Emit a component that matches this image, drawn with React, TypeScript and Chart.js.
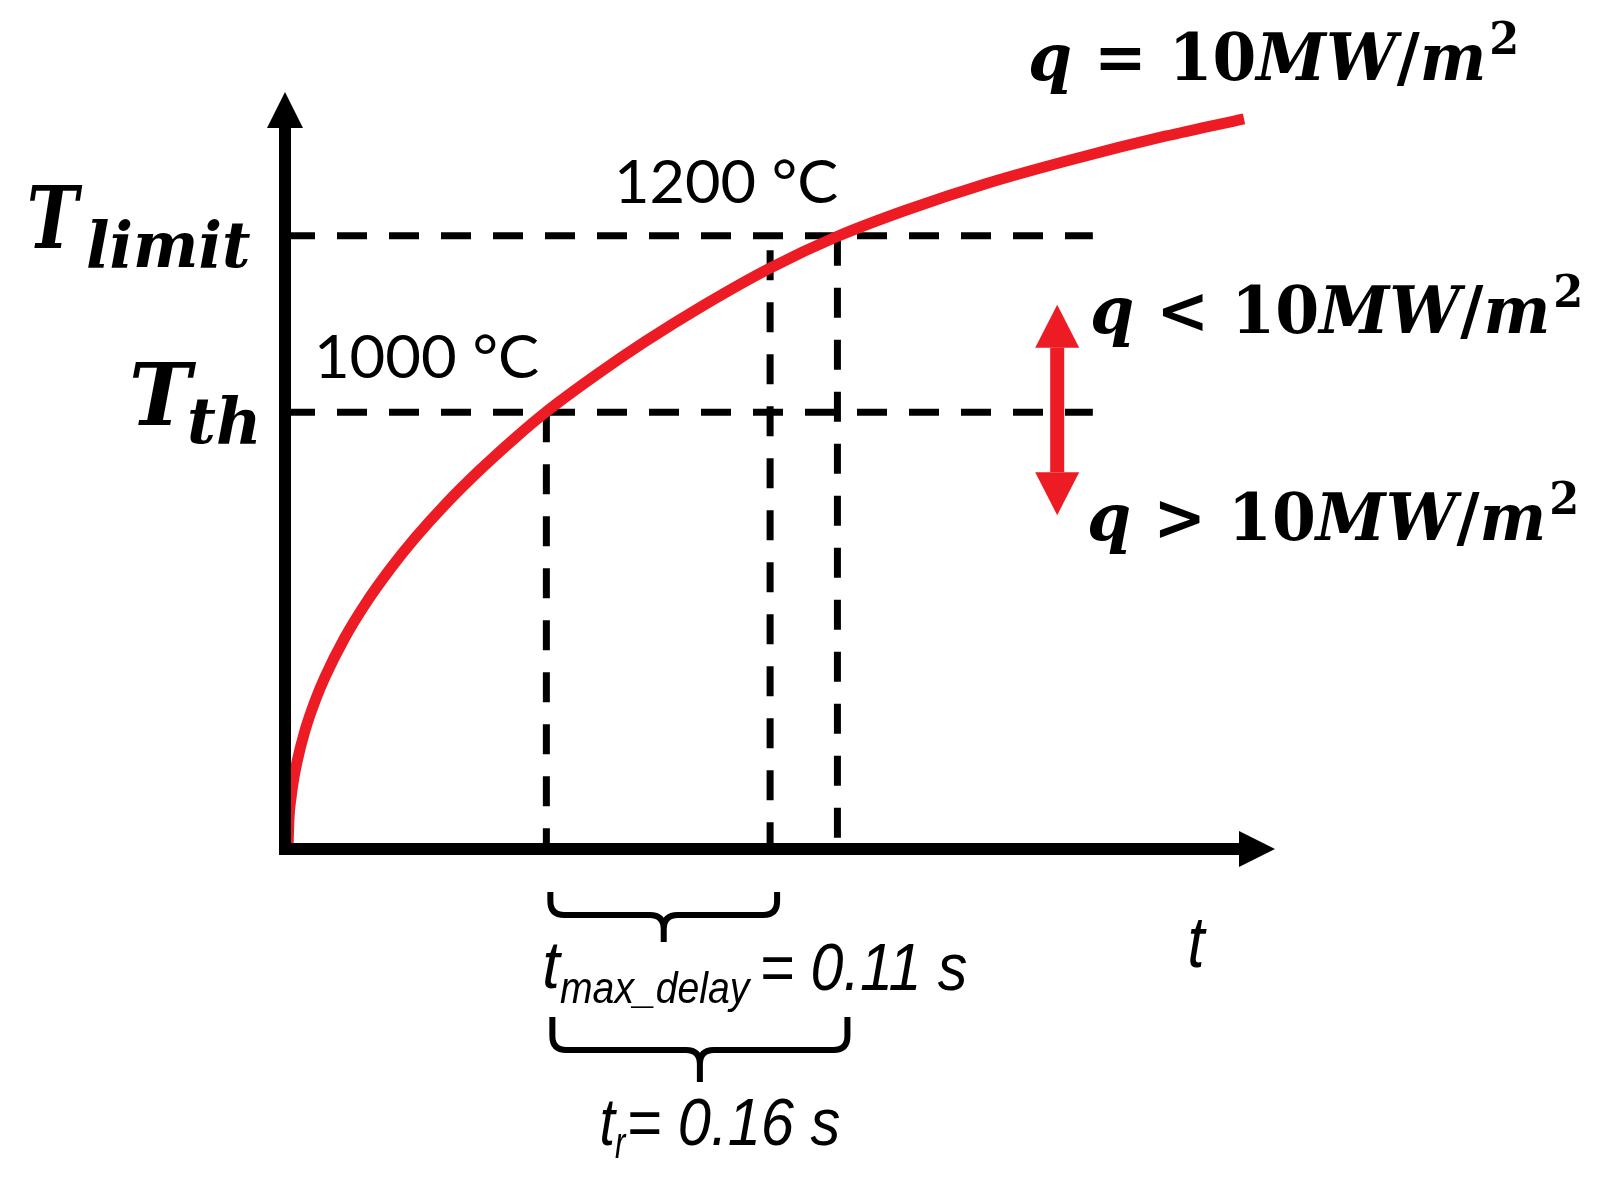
import React, { useEffect, useRef } from "react";
import { Chart, registerables } from "chart.js";

Chart.register(...registerables);

const W = 1609;
const H = 1180;
const RED = "#ED1C24";
const BLACK = "#000000";

// ---- data (arbitrary schematic units: time 0..100, temperature 0..100) ----
const curveTime = [0.3, 0.4, 0.61, 0.81, 1.21, 2.02, 3.03, 4.04, 6.06, 8.08, 10.61, 13.13, 16.16, 19.7, 23.23, 26.36, 31.31, 36.36, 42.42, 48.99, 55.76, 62.63, 70.71, 79.8, 88.89, 96.87];
const curveTemp = [0, 3.96, 6.8, 8.71, 11.49, 15.65, 19.54, 22.72, 27.97, 32.31, 36.97, 41.08, 45.48, 50.09, 54.29, 57.73, 62.52, 67.02, 71.93, 76.74, 80.91, 84.35, 87.86, 91.19, 94.16, 96.46];

const levelValues = [57.7, 81.0]; // T_th, T_limit
const levelLabels = ["1000 °C", "1200 °C"];
const guideEnd = 81.6;

const markerTimes = [26.4, 49.0, 55.8]; // t at T_th, t after max delay, t at T_limit
const markerTops = [57.7, 79.1, 81.0];

const fluxLabels = ["q = 10MW/m", "q < 10MW/m", "q > 10MW/m"];
const delayLabel = ["t", "max_delay", "= 0.11 s"];
const responseLabel = ["t", "r", "= 0.16 s"];

type Run = { text: string; font: string; dy?: number; dx?: number };

function drawRuns(ctx: CanvasRenderingContext2D, runs: Run[], left: number, right: number, baseline: number) {
  ctx.save();
  ctx.textAlign = "left";
  ctx.textBaseline = "alphabetic";
  let x = 0;
  const pos: number[] = [];
  let inkL = Infinity;
  let inkR = -Infinity;
  runs.forEach((r) => {
    ctx.font = r.font;
    x += r.dx || 0;
    const m = ctx.measureText(r.text);
    pos.push(x);
    inkL = Math.min(inkL, x - m.actualBoundingBoxLeft);
    inkR = Math.max(inkR, x + m.actualBoundingBoxRight);
    x += m.width;
  });
  const sx = (right - left) / (inkR - inkL);
  ctx.translate(left - inkL * sx, baseline);
  ctx.scale(sx, 1);
  runs.forEach((r, i) => {
    ctx.font = r.font;
    ctx.fillText(r.text, pos[i], r.dy || 0);
  });
  ctx.restore();
}

function fitText(ctx: CanvasRenderingContext2D, text: string, font: string, left: number, right: number, baseline: number) {
  drawRuns(ctx, [{ text, font }], left, right, baseline);
}

function brace(ctx: CanvasRenderingContext2D, x1: number, x2: number, yTop: number, yMid: number, yTip: number) {
  const xc = (x1 + x2) / 2;
  const r = 14;
  ctx.beginPath();
  ctx.moveTo(x1, yTop);
  ctx.lineTo(x1, yMid - r);
  ctx.quadraticCurveTo(x1, yMid, x1 + r, yMid);
  ctx.lineTo(xc - r, yMid);
  ctx.quadraticCurveTo(xc, yMid, xc, yMid + r);
  ctx.lineTo(xc, yTip);
  ctx.moveTo(xc, yMid + r);
  ctx.quadraticCurveTo(xc, yMid, xc + r, yMid);
  ctx.lineTo(x2 - r, yMid);
  ctx.quadraticCurveTo(x2, yMid, x2, yMid - r);
  ctx.lineTo(x2, yTop);
  ctx.stroke();
}

const SERIF = '"DejaVu Serif"';
const SANS = '"Liberation Sans"';

const overlay = {
  id: "schematicOverlay",
  afterDatasetsDraw(chart: any) {
    const ctx: CanvasRenderingContext2D = chart.ctx;
    const xs = chart.scales.x;
    const ys = chart.scales.y;
    const { left, right, top, bottom } = chart.chartArea;
    ctx.save();

    // axes with arrow heads
    ctx.fillStyle = BLACK;
    const aw = 12;
    ctx.fillRect(left - aw / 2, top + 36, aw, bottom - top - 36 + aw / 2);
    ctx.beginPath();
    ctx.moveTo(left - 18, top + 36);
    ctx.lineTo(left + 18, top + 36);
    ctx.lineTo(left, top);
    ctx.closePath();
    ctx.fill();
    ctx.fillRect(left - aw / 2, bottom - aw / 2, right - 36 - left + aw / 2, aw);
    ctx.beginPath();
    ctx.moveTo(right - 36, bottom - 18);
    ctx.lineTo(right - 36, bottom + 18);
    ctx.lineTo(right, bottom);
    ctx.closePath();
    ctx.fill();

    // red double arrow
    const ax = xs.getPixelForValue(78);
    const aTop = ys.getPixelForValue(71.9);
    const aBot = ys.getPixelForValue(44.1);
    ctx.fillStyle = RED;
    ctx.fillRect(ax - 7, aTop + 43, 14, aBot - aTop - 86);
    ctx.beginPath();
    ctx.moveTo(ax - 22, aTop + 43);
    ctx.lineTo(ax + 22, aTop + 43);
    ctx.lineTo(ax, aTop);
    ctx.closePath();
    ctx.fill();
    ctx.beginPath();
    ctx.moveTo(ax - 22, aBot - 43);
    ctx.lineTo(ax + 22, aBot - 43);
    ctx.lineTo(ax, aBot);
    ctx.closePath();
    ctx.fill();

    // braces
    ctx.strokeStyle = BLACK;
    ctx.lineWidth = 6;
    ctx.lineJoin = "round";
    const p0 = xs.getPixelForValue(markerTimes[0]);
    const p1 = xs.getPixelForValue(markerTimes[1]);
    const p2 = xs.getPixelForValue(markerTimes[2]);
    brace(ctx, p0 + 4, p1 + 7, 892, 915, 942);
    brace(ctx, p0 + 6, p2 + 10, 1017, 1050, 1082);

    // texts
    ctx.fillStyle = BLACK;
    fitText(ctx, "T", `italic bold 86px ${SERIF}`, 30, 83, 248);
    fitText(ctx, "limit", `italic bold 64px ${SERIF}`, 88, 250, 267);
    fitText(ctx, "T", `italic bold 86px ${SERIF}`, 133, 197, 425);
    fitText(ctx, "th", `italic bold 64px ${SERIF}`, 190, 257, 443);

    fitText(ctx, levelLabels[1], `60px Lato`, 618, 837, 203);
    fitText(ctx, levelLabels[0], `60px Lato`, 318, 538, 378);

    const fluxRuns = (label: string): Run[] => {
      const q = label.slice(0, 1);
      const rel = label.slice(1, 4);
      return [
        { text: q, font: `italic bold 66px ${SERIF}` },
        { text: rel + "10", font: `bold 66px ${SERIF}` },
        { text: "MW", font: `italic bold 66px ${SERIF}` },
        { text: "/", font: `bold 66px ${SERIF}` },
        { text: "m", font: `italic bold 66px ${SERIF}` },
        { text: "2", font: `bold 45px ${SERIF}`, dy: -26, dx: 3 },
      ];
    };
    drawRuns(ctx, fluxRuns(fluxLabels[0]), 1030, 1516, 80);
    drawRuns(ctx, fluxRuns(fluxLabels[1]), 1092, 1580, 333);
    drawRuns(ctx, fluxRuns(fluxLabels[2]), 1089, 1576, 540);

    fitText(ctx, delayLabel[0], `italic 67px ${SANS}`, 545, 562, 988);
    fitText(ctx, delayLabel[1], `italic 44px ${SANS}`, 560, 752, 1003);
    fitText(ctx, delayLabel[2], `italic 67px ${SANS}`, 763, 967, 990);

    fitText(ctx, responseLabel[0], `italic 67px ${SANS}`, 602, 617, 1145);
    fitText(ctx, responseLabel[1], `italic 44px ${SANS}`, 615, 627, 1158);
    fitText(ctx, responseLabel[2], `italic 67px ${SANS}`, 630, 840, 1145);

    fitText(ctx, "t", `italic 72px ${SANS}`, 1190, 1207, 967);

    ctx.restore();
  },
};

export default function App() {
  const ref = useRef<HTMLCanvasElement>(null);
  useEffect(() => {
    const canvas = ref.current;
    if (!canvas) return;
    const dashStyle = {
      borderColor: BLACK,
      borderWidth: 7,
      borderDash: [30, 22],
      pointRadius: 0,
      fill: false,
      tension: 0,
      order: 2,
    };
    const datasets: any[] = [
      {
        label: "T(t)",
        data: curveTime.map((t, i) => ({ x: t, y: curveTemp[i] })),
        borderColor: RED,
        borderWidth: 11,
        pointRadius: 0,
        fill: false,
        cubicInterpolationMode: "monotone",
        order: 0,
      },
      ...levelValues.map((v) => ({
        ...dashStyle,
        data: [
          { x: 0, y: v },
          { x: guideEnd, y: v },
        ],
      })),
      ...markerTimes.map((t, i) => ({
        ...dashStyle,
        data: [
          { x: t, y: markerTops[i] },
          { x: t, y: 0 },
        ],
      })),
    ];
    const chart = new Chart(canvas, {
      type: "line",
      data: { datasets },
      options: {
        responsive: false,
        maintainAspectRatio: false,
        devicePixelRatio: 1,
        animation: false,
        events: [],
        layout: { padding: { left: 285, right: W - 1275, top: 92, bottom: H - 849 } },
        scales: {
          x: { type: "linear", min: 0, max: 100, display: false },
          y: { type: "linear", min: 0, max: 100, display: false },
        },
        plugins: { legend: { display: false }, tooltip: { enabled: false }, title: { display: false } },
      } as any,
      plugins: [overlay],
    });
    return () => chart.destroy();
  }, []);
  return (
    <div style={{ position: "absolute", left: 0, top: 0, width: W, height: H, background: "#fff" }}>
      <canvas ref={ref} width={W} height={H} style={{ display: "block", width: W, height: H }} />
    </div>
  );
}
